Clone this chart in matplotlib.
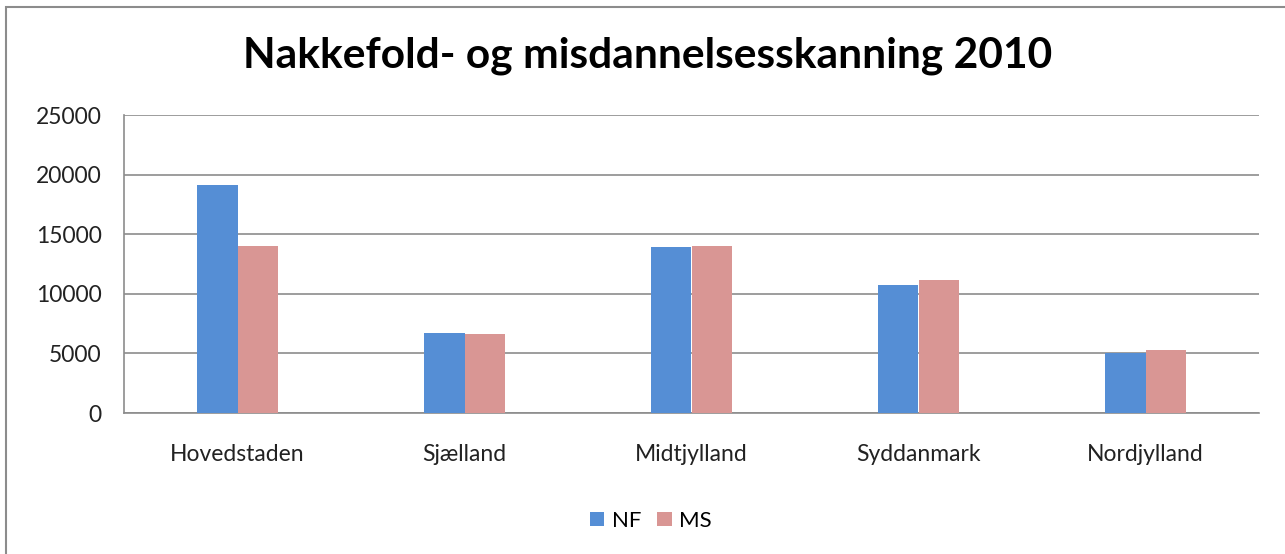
import numpy as np
import matplotlib.pyplot as plt
from matplotlib.patches import Rectangle

# Nakkefold- og misdannelsesskanning pr. region, 2010
regioner = ['Hovedstaden', 'Sjælland', 'Midtjylland', 'Syddanmark', 'Nordjylland']
nf = [19150, 6700, 13950, 10750, 5060]
ms = [14000, 6650, 14050, 11150, 5260]
yticks = [0, 5000, 10000, 15000, 20000, 25000]

plt.rcParams['font.family'] = ['Lato', 'DejaVu Sans']

W, H = 1285, 554
fig = plt.figure(figsize=(W / 100, H / 100), dpi=100)
fig.patch.set_facecolor('white')

# plot area in pixels: left 124, right 1259, top 115, bottom 413
ax = fig.add_axes([124 / W, 1 - 413 / H, (1259 - 124) / W, (413 - 115) / H])

x = np.arange(len(regioner))
w = 0.179
ax.bar(x - w / 2, nf, w, color='#558ED5', label='NF', zorder=3)
ax.bar(x + w / 2, ms, w, color='#D99694', label='MS', zorder=3)

ax.set_xlim(-0.5, len(regioner) - 0.5)
ax.set_ylim(0, 25000)
ax.set_yticks(yticks)
ax.set_yticklabels([str(v) for v in yticks], fontsize=16.5, color='#222222')
ax.set_xticks(x)
ax.set_xticklabels(regioner, fontsize=16.5, color='#222222')
ax.tick_params(axis='both', length=0)
ax.tick_params(axis='y', pad=16)
ax.tick_params(axis='x', pad=22)
ax.grid(axis='y', color='#8c8c8c', linewidth=1.2, zorder=0)

for side in ['top', 'right']:
    ax.spines[side].set_visible(False)
for side in ['left', 'bottom']:
    ax.spines[side].set_color('#8c8c8c')
    ax.spines[side].set_linewidth(1.2)

fig.text(648 / W, 1 - 56 / H, 'Nakkefold- og misdannelsesskanning 2010',
         ha='center', va='center', fontsize=30.6, fontweight='bold', color='black')

fig.legend(loc='center', bbox_to_anchor=(651 / W, 1 - 521 / H), ncol=2,
           frameon=False, fontsize=16, handlelength=0.65, handleheight=0.6,
           handletextpad=0.35, columnspacing=0.7)

# chart border (only left and top edges fall inside the image)
fig.patches.append(Rectangle((6 / W, -0.1), 1.2, 1 - 7 / H + 0.1, transform=fig.transFigure,
                             fill=False, edgecolor='#8c8c8c', linewidth=1.5))

fig.savefig('out.png', dpi=100, facecolor='white')
